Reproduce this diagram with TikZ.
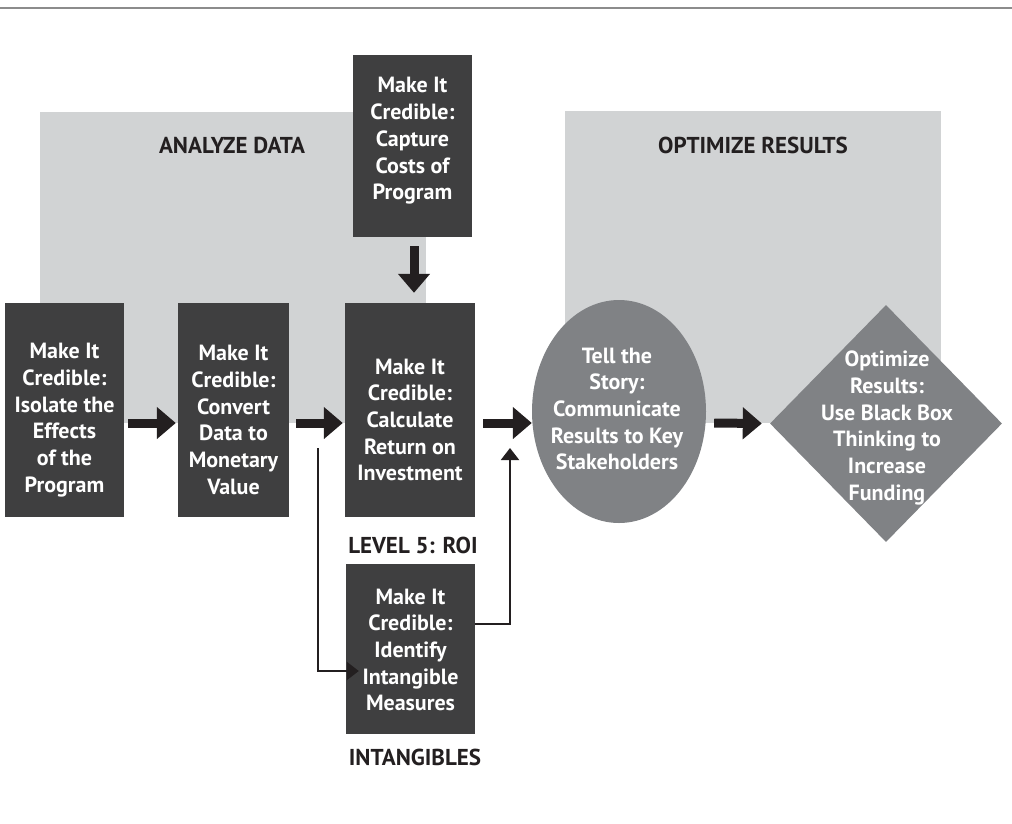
\documentclass[tikz,border=0pt]{standalone}
\usepackage{fontspec}
\setmainfont{PT Sans}
\usetikzlibrary{arrows.meta,shapes.geometric}
\definecolor{boxdark}{HTML}{3F3F40}
\definecolor{panel}{HTML}{D1D3D4}
\definecolor{shapegray}{HTML}{808285}
\definecolor{ink}{HTML}{231F20}
\definecolor{rulegray}{HTML}{8C8C8C}
\begin{document}
\begin{tikzpicture}[x=1pt,y=-1pt,
  panelbox/.style={fill=panel, draw=none},
  stepbox/.style={fill=boxdark, draw=none, inner sep=0pt, minimum width=#1},
  stepbox/.default=119pt,
  boxtext/.style={text=white, font=\bfseries\fontsize{22}{26.7}\selectfont, align=center, inner sep=0pt},
  headtext/.style={text=ink, font=\bfseries\fontsize{23}{27}\selectfont, inner sep=0pt},
  bigarrow/.style={draw=ink, line width=9pt, -{Triangle[length=19pt,width=31pt]}},
  thinarrow/.style={draw=ink, line width=2pt, -{Triangle[length=12pt,width=18pt]}},
]
\useasboundingbox (0,0) rectangle (1012,823);

% rule across the top
\draw[rulegray, line width=2.2pt] (0,8) -- (1012,8);

% background panels
\node[panelbox, minimum width=386pt, minimum height=311pt, inner sep=0pt] (analyzePanel) at (233,267.5) {};
\node[panelbox, minimum width=376pt, minimum height=312pt, inner sep=0pt] (optimizePanel) at (753,267) {};
\node[headtext] (analyzeHead) at (232,145) {ANALYZE DATA};
\node[headtext] (optimizeHead) at (753,145) {OPTIMIZE RESULTS};

% step boxes
\node[stepbox=119pt, minimum height=182pt] (costs) at (412.5,146) {};
\node[boxtext] (costsT) at (412.5,141) {Make It\\Credible:\\Capture\\Costs of\\Program};

\node[stepbox=119pt, minimum height=214pt] (isolate) at (64.5,410) {};
\node[boxtext] (isolateT) at (64.5,420) {Make It\\Credible:\\Isolate the\\Effects\\of the\\Program};

\node[stepbox=111pt, minimum height=214pt] (convert) at (233.5,410) {};
\node[boxtext] (convertT) at (233.5,420) {Make It\\Credible:\\Convert\\Data to\\Monetary\\Value};

\node[stepbox=130pt, minimum height=214pt] (roi) at (410,410) {};
\node[boxtext] (roiT) at (410,420) {Make It\\Credible:\\Calculate\\Return on\\Investment};
\node[headtext] (roiHead) at (413,545) {LEVEL 5: ROI};

\node[stepbox=129pt, minimum height=170pt] (intang) at (410.5,649) {};
\node[boxtext] (intangT) at (410.5,650) {Make It\\Credible:\\Identify\\Intangible\\Measures};
\node[headtext] (intangHead) at (415,757) {INTANGIBLES};

% story and optimize shapes
\node[ellipse, fill=shapegray, draw=none, inner sep=0pt, minimum width=174pt, minimum height=223pt] (story) at (619,411.5) {};
\node[boxtext] (storyT) at (617,409) {Tell the\\Story:\\Communicate\\Results to Key\\Stakeholders};

\node[diamond, fill=shapegray, draw=none, inner sep=0pt, minimum width=232pt, minimum height=237pt] (optimize) at (886,423.5) {};
\node[boxtext] (optimizeT) at (887,428) {Optimize\\Results:\\Use Black Box\\Thinking to\\Increase\\Funding};

% main flow
\draw[bigarrow] ([shift={(4,13)}]isolate.east) -- ([shift={(-2,13)}]convert.west);
\draw[bigarrow] ([shift={(7,13)}]convert.east) -- ([shift={(-2,13)}]roi.west);
\draw[bigarrow] ([shift={(8,13)}]roi.east) -- ([shift={(0,11.5)}]story.west);
\draw[bigarrow] ([shift={(8,11.5)}]story.east) -- ([shift={(-8,0)}]optimize.west);
\draw[bigarrow] ([shift={(1.5,9)}]costs.south) -- ([shift={(4,-10)}]roi.north);

% intangibles branch
\coordinate (branch) at (318,448);
\coordinate (rejoin) at (510,448);
\draw[thinarrow] (branch) |- ([shift={(13,22)}]intang.west);
\draw[thinarrow] ([yshift=25]intang.east) -| (rejoin);
\end{tikzpicture}
\end{document}
